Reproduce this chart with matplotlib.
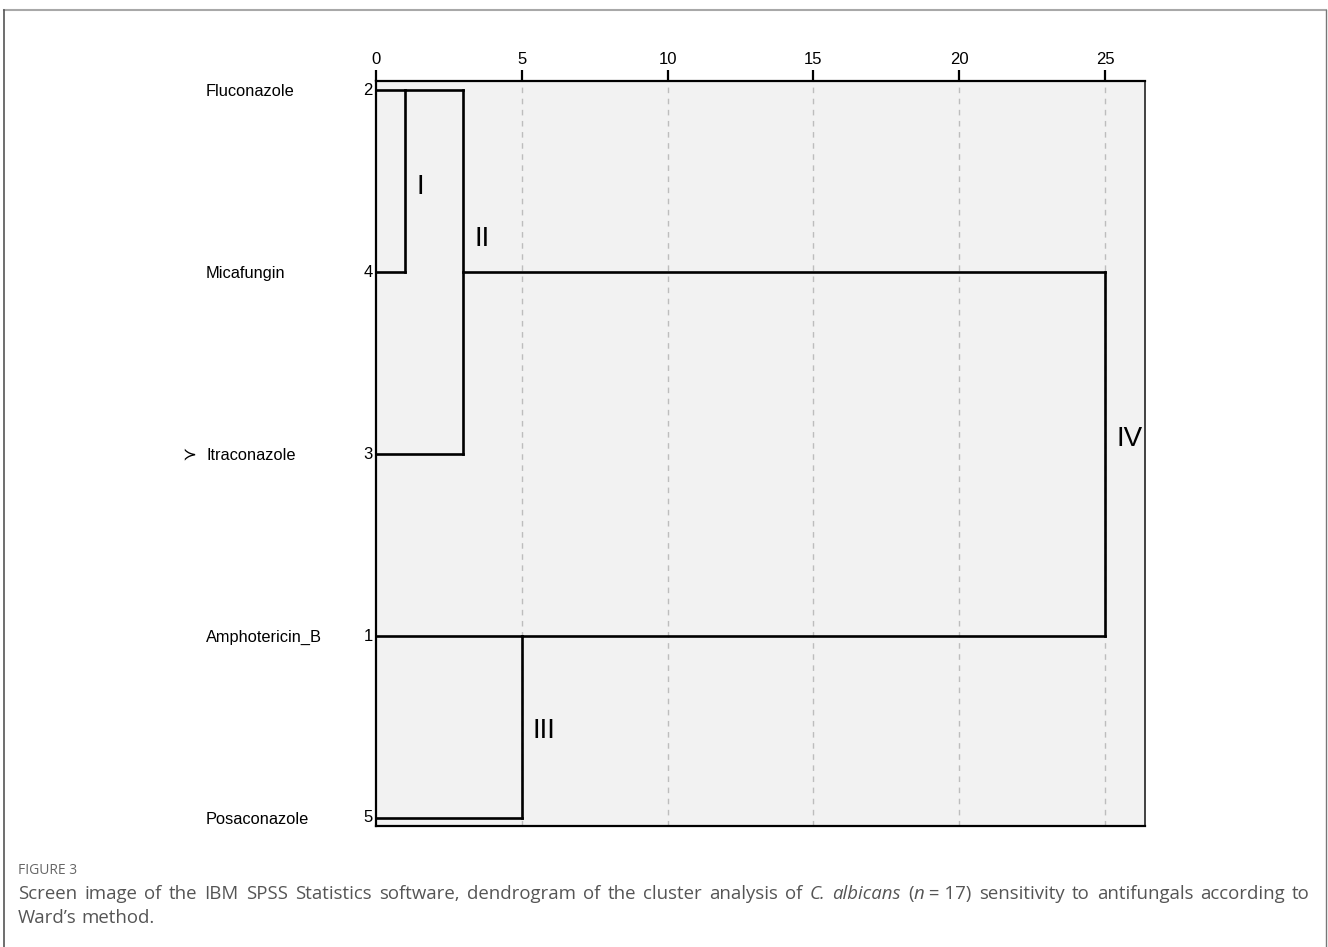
import matplotlib
matplotlib.use("Agg")
import matplotlib.pyplot as plt
from matplotlib.lines import Line2D
from matplotlib.transforms import blended_transform_factory

# leaves in the order SPSS draws them (top to bottom)
drugs = ["Fluconazole", "Micafungin", "Itraconazole", "Amphotericin_B", "Posaconazole"]
case_numbers = [2, 4, 3, 1, 5]

# merges: (node a, node b, rescaled distance, row the joined cluster continues on)
# leaves are nodes 0..4, each merge adds a new node 5, 6, ...
merges = [
    (0, 1, 1.0, 0),
    (5, 2, 3.0, 1),
    (3, 4, 5.0, 3),
    (6, 7, 25.0, 2),
]
cluster_names = ["I", "II", "III", "IV"]
cluster_label_rows = [0.53, 0.82, 3.52, 1.92]

x_ticks = [0, 5, 10, 15, 20, 25]

caption_head = "FIGURE 3"
# "\u00a0" keeps pieces together when the line is justified
caption_line1 = [
    ("Screen image of the IBM SPSS Statistics software, dendrogram of the cluster analysis of ", False),
    ("C. albicans", True),
    (" (", False),
    ("n", True),
    ("\u00a0=\u00a017) sensitivity to antifungals according to", False),
]
caption_line2 = [("Ward\u2019s method.", False)]

W, H = 1328, 947
fig = plt.figure(figsize=(W / 100, H / 100), dpi=100)
fig.patch.set_facecolor("white")

ax = fig.add_axes([376 / W, 1 - 826 / H, (1145 - 376) / W, (826 - 81) / H])
ax.set_facecolor("#f2f2f2")
ax.set_xlim(0, 26.37)
ax.set_ylim(4.044, -0.05)

# dashed reference lines
for t in x_ticks[1:]:
    ax.axvline(t, color="#bdbdbd", lw=1.0, ls=(0, (4, 4)), zorder=1)

# dendrogram
node_x = [0.0] * len(drugs)
node_y = list(range(len(drugs)))
lw = 1.9
for a, b, dist, row in merges:
    for n in (a, b):
        ax.plot([node_x[n], dist], [node_y[n], node_y[n]], color="black", lw=lw,
                solid_capstyle="projecting", zorder=3)
    ax.plot([dist, dist], [node_y[a], node_y[b]], color="black", lw=lw,
            solid_capstyle="projecting", zorder=3)
    node_x.append(dist)
    node_y.append(row)

for (a, b, dist, row), name, ly in zip(merges, cluster_names, cluster_label_rows):
    ax.text(dist + 0.38, ly, name, ha="left", va="center", fontsize=20,
            family="Liberation Sans", zorder=4)

# axes styling
ax.xaxis.tick_top()
ax.set_xticks(x_ticks)
ax.set_xticklabels([str(t) for t in x_ticks], family="Liberation Sans", fontsize=12)
ax.tick_params(axis="x", direction="out", length=8, width=1.6, pad=2)
ax.set_yticks([])
for side in ("top", "left", "bottom"):
    ax.spines[side].set_linewidth(1.6)
    ax.spines[side].set_color("black")
ax.spines["right"].set_linewidth(1.3)
ax.spines["right"].set_color("#333333")

# row labels
tr = blended_transform_factory(fig.transFigure, ax.transData)
for i, (drug, num) in enumerate(zip(drugs, case_numbers)):
    ax.text(206 / W, i + 0.01, drug, transform=tr, ha="left", va="center",
            fontsize=11.8, family="Liberation Sans", clip_on=False)
    ax.text(373 / W, i, str(num), transform=tr, ha="right", va="center",
            fontsize=12, family="Liberation Sans", clip_on=False)
ax.text(182 / W, 2, "\u227b", transform=tr, ha="left", va="center",
        fontsize=12, family="DejaVu Sans", clip_on=False)

# outer frame
fig.add_artist(Line2D([4 / W, 1326 / W], [1 - 10 / H, 1 - 10 / H], color="#a8a8a8", lw=1.5))
fig.add_artist(Line2D([4 / W, 4 / W], [0, 1 - 10 / H], color="#555555", lw=1.2))
fig.add_artist(Line2D([1326 / W, 1326 / W], [0, 1 - 10 / H], color="#777777", lw=1.0))

# caption
cap_color = "#555555"
cap_font = dict(family="Open Sans", fontsize=13.4, color=cap_color, va="baseline")
fig.text(18 / W, 1 - 874 / H, caption_head, family="Open Sans", fontsize=10,
         color="#666666", va="baseline")

renderer = fig.canvas.get_renderer()


def split_words(runs):
    words = [[]]
    for text, italic in runs:
        parts = text.split(" ")
        for i, p in enumerate(parts):
            if i > 0:
                words.append([])
            if p:
                words[-1].append((p, italic))
    return [w for w in words if w]


def draw_line(runs, y_px, x0=18, x1=1310, justify=True):
    words = split_words(runs)
    placed = []
    total = 0.0
    for word in words:
        pieces = []
        width = 0.0
        for text, italic in word:
            t = fig.text(0, 1 - y_px / H, text, style="italic" if italic else "normal", **cap_font)
            w = t.get_window_extent(renderer).width
            pieces.append((t, width))
            width += w
        placed.append((pieces, width))
        total += width
    if justify and len(words) > 1:
        gap = (x1 - x0 - total) / (len(words) - 1)
    else:
        sp = fig.text(0, 0, "a a", **cap_font)
        sa = fig.text(0, 0, "aa", **cap_font)
        gap = sp.get_window_extent(renderer).width - sa.get_window_extent(renderer).width
        sp.remove()
        sa.remove()
    x = x0
    for pieces, width in placed:
        for t, off in pieces:
            t.set_x((x + off) / W)
        x += width + gap


draw_line(caption_line1, 899)
draw_line(caption_line2, 923, justify=False)

fig.savefig("out.png", dpi=100, facecolor="white")
